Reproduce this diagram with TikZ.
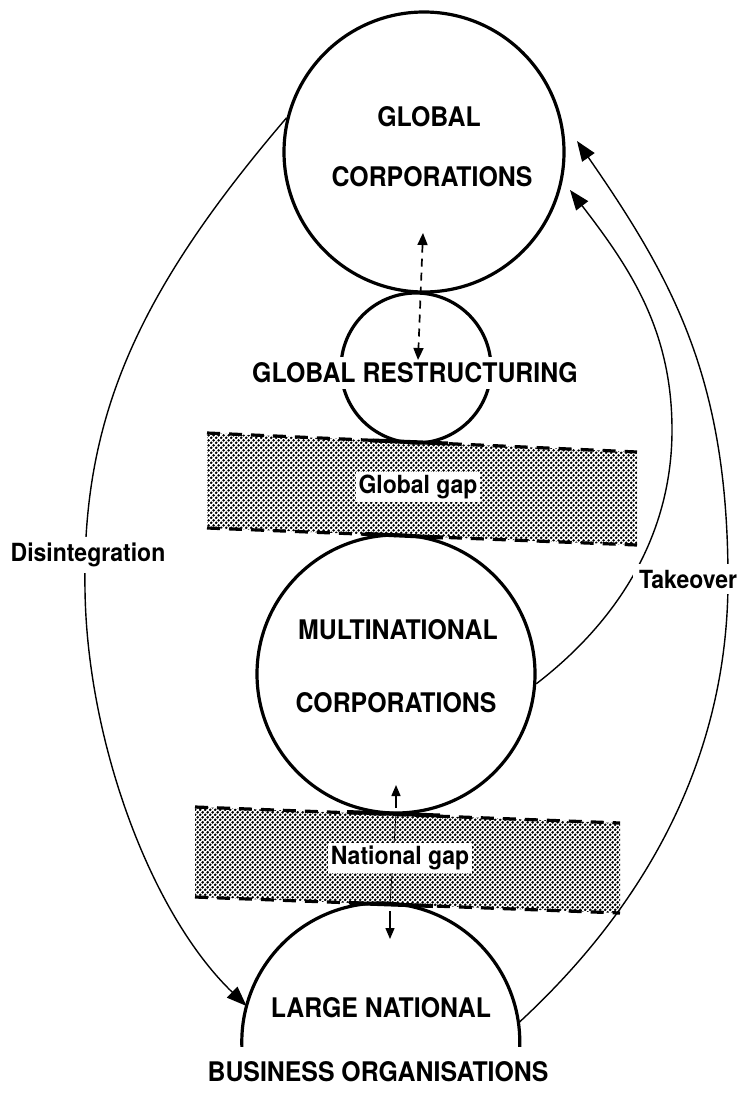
\documentclass[tikz,border=0pt]{standalone}
\usepackage{fontspec}
\newfontfamily\labfont{TeX Gyre Heros}[FakeStretch=0.92]
\usetikzlibrary{arrows.meta,patterns.meta}

\tikzdeclarepattern{
  name=stip,
  type=uncolored,
  bounding box={(0pt,0pt) and (5.4pt,5.4pt)},
  tile size={(5.4pt,5.4pt)},
  code={
    \fill (1.35pt,1.35pt) circle (1.6pt);
    \fill (4.05pt,4.05pt) circle (1.6pt);
  }
}

\tikzset{
  bigcirc/.style={circle, draw, line width=3.2pt, inner sep=0pt},
  lab/.style={font=\labfont\bfseries\fontsize{27}{30}\selectfont, inner sep=0pt},
  lowlab/.style={font=\labfont\bfseries\fontsize{25}{28}\selectfont},
  arr/.style={line width=1.4pt, -{Triangle[length=20pt,width=15pt]}},
  smallarr/.style={line width=1.4pt, -{Triangle[length=11pt,width=9pt]}},
  gapedge/.style={line width=3.2pt, dash pattern=on 13pt off 9pt},
  touch/.style={line width=4pt},
  gapfill/.style={pattern=stip, pattern color=black},
}

\begin{document}
\begin{tikzpicture}[x=1pt,y=-1pt]
\useasboundingbox (0,0) rectangle (741,1099);

% gap bands
\coordinate (g1) at (207,433); \coordinate (g2) at (637,452);
\coordinate (g3) at (637,545); \coordinate (g4) at (207,528);
\fill[gapfill] (g1) -- (g2) -- (g3) -- (g4) -- cycle;
\draw[gapedge] (g1) -- (g2);
\draw[gapedge] (g4) -- (g3);

\coordinate (n1) at (195,807); \coordinate (n2) at (620,823);
\coordinate (n3) at (620,913); \coordinate (n4) at (195,897);
\fill[gapfill] (n1) -- (n2) -- (n3) -- (n4) -- cycle;
\draw[gapedge] (n1) -- (n2);
\draw[gapedge] (n4) -- (n3);

% touching segments
\coordinate (ta1) at (373,440.5); \coordinate (ta2) at (448,443.5);
\coordinate (tb1) at (367,534); \coordinate (tb2) at (443,537.5);
\coordinate (tc1) at (347,812); \coordinate (tc2) at (440,815.5);
\coordinate (td1) at (350,903); \coordinate (td2) at (433,906);
\draw[touch] (ta1) -- (ta2);
\draw[touch] (tb1) -- (tb2);
\draw[touch] (tc1) -- (tc2);
\draw[touch] (td1) -- (td2);

% circles
\node[bigcirc, minimum size=280pt] (gc) at (424,152) {};
\node[bigcirc, minimum size=150pt] (gr) at (416,368) {};
\node[bigcirc, minimum size=278pt] (mnc) at (396,674) {};
\node[circle, minimum size=278pt, inner sep=0pt] (lno) at (381,1042) {};
\draw[line width=3.2pt] (lno.182) arc[start angle=182, end angle=-2, radius=139pt];

% arrow end points
\coordinate (tkA) at (577,141);
\coordinate (tkB) at (570,190);

% Disintegration
\draw[arr] (gc.166) .. controls (135,295) and (82,420) .. (85,590)
  .. controls (87,740) and (150,913) .. (lno.165);

% Takeover (outer)
\draw[arr] (lno.8) .. controls (669,884) and (728,730) .. (728,580)
  .. controls (728,380) and (674,281) .. (tkA);

% Takeover (inner)
\draw[arr] (mnc.-4) .. controls (623,617) and (672,530) .. (672,430)
  .. controls (672,330) and (630,268) .. (tkB);

% national gap arrows
\coordinate (u1) at (396,808); \coordinate (u2) at (396,785);
\coordinate (v1) at (390,911); \coordinate (v2) at (390,939);
\coordinate (w1) at (396,814); \coordinate (w2) at (390,904);
\draw[line width=0.7pt] (w1) -- (w2);
\draw[smallarr] (u1) -- (u2);
\draw[smallarr] (v1) -- (v2);

% labels
\node[lowlab, fill=white, inner sep=3pt] (gg) at (418,487) {Global gap};
\node[lowlab, fill=white, inner sep=3pt] (ng) at (400,858) {National gap};
\node[lowlab, fill=white, inner sep=6pt] (tk) at (688,579) {Takeover};
\node[lowlab, fill=white, inner sep=6pt] (dis) at (88,555) {Disintegration};

\node[lab] (gct1) at (429,117) {GLOBAL};
\node[lab] (gct2) at (432,177) {CORPORATIONS};
\node[lab, fill=white, inner sep=6pt] (grt) at (415,373) {GLOBAL RESTRUCTURING};
\node[lab] (mt1) at (398,630) {MULTINATIONAL};
\node[lab] (mt2) at (396,703) {CORPORATIONS};
\node[lab] (lt1) at (381,1008) {LARGE NATIONAL};
\node[lab] (lt2) at (378,1072) {BUSINESS ORGANISATIONS};

% dashed double arrow
\coordinate (dA) at (423,233); \coordinate (dB) at (418,360);
\draw[line width=1.7pt, dash pattern=on 8pt off 6pt,
  {Triangle[length=12pt,width=10pt]}-{Triangle[length=12pt,width=10pt]}] (dA) -- (dB);
\end{tikzpicture}
\end{document}
